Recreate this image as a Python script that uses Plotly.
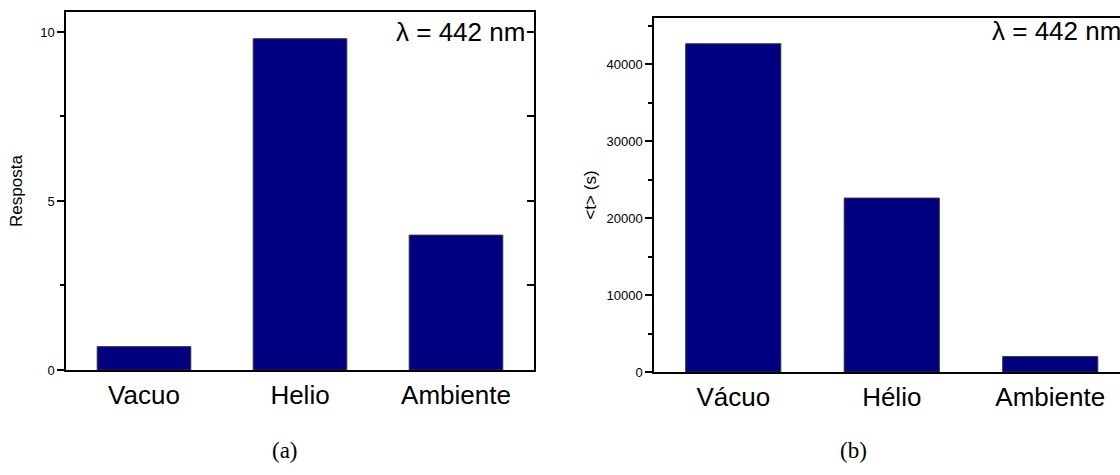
## two bar panels: response and mean time per atmosphere, lambda = 442 nm

import plotly.graph_objects as go

# data
categorias_a = ['Vacuo', 'Helio', 'Ambiente']
resposta = [0.69, 9.80, 3.99]

categorias_b = ['Vácuo', 'Hélio', 'Ambiente']
tempo_medio = [42650, 22600, 2000]

ticks_a = [0, 5, 10]
minor_a = [2.5, 7.5]
mirror_a = [0, 2.5, 5, 7.5, 10]
ticks_b = [0, 10000, 20000, 30000, 40000]
minor_b = [5000, 15000, 25000, 35000, 45000]

W, H = 1120, 475
bar_color = '#000080'
font_sans = 'Liberation Sans, Arial, sans-serif'
font_serif = 'Liberation Serif, DejaVu Serif, serif'


def px_x(v):
    return v / W


def px_y(v):
    return 1 - v / H


fig = go.Figure()

fig.add_trace(go.Bar(
    x=categorias_a, y=resposta, width=0.6,
    marker=dict(color=bar_color, line=dict(color='#333333', width=1)),
    xaxis='x', yaxis='y', showlegend=False,
))
fig.add_trace(go.Bar(
    x=categorias_b, y=tempo_medio, width=0.6,
    marker=dict(color=bar_color, line=dict(color='#333333', width=1)),
    xaxis='x2', yaxis='y2', showlegend=False,
))
# empty trace so the inward right-side ticks of panel (a) get drawn
fig.add_trace(go.Scatter(x=[], y=[], xaxis='x', yaxis='y3', showlegend=False))

line_style = dict(showline=True, linecolor='black', linewidth=1.5, showgrid=False, zeroline=False)
tick_style = dict(ticks='outside', ticklen=7, tickwidth=1.5, tickcolor='black',
                  tickfont=dict(size=13, color='black'))
minor_style = dict(ticks='outside', ticklen=4, tickwidth=1.5, tickcolor='black')

fig.update_layout(
    template='none',
    width=W, height=H,
    margin=dict(l=0, r=0, t=0, b=0),
    plot_bgcolor='white', paper_bgcolor='white',
    font=dict(family=font_sans, color='black'),
    xaxis=dict(
        domain=[px_x(66), px_x(534)], range=[-0.5, 2.5], anchor='y',
        mirror=True, ticks='', tickfont=dict(size=26, color='black'), ticklabelstandoff=1,
        **line_style,
    ),
    yaxis=dict(
        domain=[px_y(370), px_y(12)], range=[0, 10.59], anchor='x',
        mirror=True, tickvals=ticks_a,
        minor=dict(tickvals=minor_a, **minor_style),
        title=dict(text='Resposta', font=dict(size=17, color='black'), standoff=13),
        **tick_style, **line_style,
    ),
    yaxis3=dict(
        overlaying='y', side='right', anchor='x', range=[0, 10.59],
        showline=False, showgrid=False, zeroline=False,
        ticks='inside', ticklen=7, tickwidth=1.5, tickcolor='black',
        tickvals=mirror_a, showticklabels=False,
    ),
    xaxis2=dict(
        domain=[px_x(654), 1.0], range=[-0.5, 2.44], anchor='y2',
        mirror=True, ticks='', tickfont=dict(size=26, color='black'), ticklabelstandoff=1,
        **line_style,
    ),
    yaxis2=dict(
        domain=[px_y(372), px_y(18)], range=[0, 46000], anchor='x2',
        tickvals=ticks_b, tickformat='d',
        minor=dict(tickvals=minor_b, **minor_style),
        title=dict(text='<t> (s)', font=dict(size=17, color='black'), standoff=6),
        **tick_style, **line_style,
    ),
)

annotations = [
    dict(text='λ = 442 nm', x=px_x(527), y=px_y(32), xanchor='right', yanchor='middle',
         font=dict(size=26, family=font_sans, color='black')),
    dict(text='λ = 442 nm', x=px_x(990), y=px_y(31), xanchor='left', yanchor='middle',
         font=dict(size=26, family=font_sans, color='black')),
    dict(text='(a)', x=px_x(285), y=px_y(450), xanchor='center', yanchor='middle',
         font=dict(size=23, family=font_serif, color='black')),
    dict(text='(b)', x=px_x(853), y=px_y(450), xanchor='center', yanchor='middle',
         font=dict(size=23, family=font_serif, color='black')),
]
for a in annotations:
    fig.add_annotation(xref='paper', yref='paper', showarrow=False, **a)

# drop the default page margin so the figure sits at the window's corner
fig.write_html("out.html", config={'displayModeBar': False},
               post_script="document.body.style.margin='0';")
